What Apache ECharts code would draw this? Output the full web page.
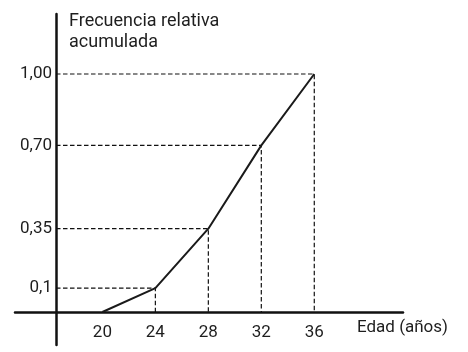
<!DOCTYPE html>
<html><head><meta charset="utf-8">
<script src="https://cdn.jsdelivr.net/npm/echarts@6/dist/echarts.min.js"></script>
<style>html,body{margin:0;padding:0;background:#fff}#c{width:468px;height:352px}</style>
</head><body><div id="c"></div>
<script>
// ---- data ----
const ages = [20, 24, 28, 32, 36];
const cumFreq = [0, 0.1, 0.35, 0.70, 1.00];
const xTickValues = [20, 24, 28, 32, 36];
const yTickValues = [0.1, 0.35, 0.70, 1.00];
const yTickLabels = ['0,1', '0,35', '0,70', '1,00'];
const yTitle = 'Frecuencia relativa\nacumulada';
const xTitle = 'Edad (años)';

// ---- layout ----
const W = 468, H = 352;
const grid = { left: 15, right: 65, top: 14, bottom: 7 };
const yAxisPx = 56;   // pixel x of the vertical axis
const xAxisPx = 312;  // pixel y of the horizontal axis
const xMin = 13.4, xMax = 42.7;
const yPxPerUnit = 238;
const gridW = W - grid.left - grid.right;
const gridBottomPx = H - grid.bottom;
const yMin = -(gridBottomPx - xAxisPx) / yPxPerUnit;
const yMax = (xAxisPx - grid.top) / yPxPerUnit;
const yAxisXValue = xMin + (yAxisPx - grid.left) * (xMax - xMin) / gridW;

const FONT = 'Roboto';
const TXT = '#1e1e1e';

const pts = ages.map((a, i) => [a, cumFreq[i]]);
const guideSeries = pts.filter(p => p[1] > 0).map(p => ({
  type: 'line', silent: true, symbol: 'none', z: 2,
  lineStyle: { color: '#111', width: 1.2, type: [4.5, 2.5] },
  data: [[yAxisXValue, p[1]], [p[0], p[1]], [p[0], 0]]
}));

const chart = echarts.init(document.getElementById('c'), null, { renderer: 'canvas' });
chart.setOption({
  animation: false,
  backgroundColor: '#fff',
  title: {
    text: yTitle, left: 69, top: 11, padding: 0,
    textStyle: { fontFamily: FONT, fontSize: 18, fontWeight: 'normal', color: TXT, lineHeight: 21 }
  },
  grid: Object.assign({ containLabel: false, outerBoundsMode: 'none' }, grid),
  xAxis: {
    type: 'value', min: xMin, max: xMax, position: 'bottom', offset: -(gridBottomPx - xAxisPx),
    axisLine: { onZero: false, lineStyle: { color: '#111', width: 2.5 } },
    axisTick: { show: false },
    splitLine: { show: false },
    axisLabel: { customValues: xTickValues, margin: 12, fontFamily: FONT, fontSize: 17, color: TXT },
    name: xTitle, nameLocation: 'end', nameGap: -46,
    nameTextStyle: { fontFamily: FONT, fontSize: 17, color: TXT, verticalAlign: 'top', padding: [7, 0, 0, 0] }
  },
  yAxis: {
    type: 'value', min: yMin, max: yMax, position: 'left', offset: -(yAxisPx - grid.left),
    axisLine: { onZero: false, lineStyle: { color: '#111', width: 2.5 } },
    axisTick: { show: false },
    splitLine: { show: false },
    axisLabel: { customValues: yTickValues, margin: 4, fontFamily: FONT, fontSize: 17, color: TXT,
      formatter: v => { const i = yTickValues.findIndex(t => Math.abs(t - v) < 1e-9); return i >= 0 ? yTickLabels[i] : ''; } }
  },
  series: [
    ...guideSeries,
    { type: 'line', symbol: 'none', z: 3, data: pts,
      lineStyle: { color: '#1a1a1a', width: 2 } }
  ]
});
</script></body></html>
